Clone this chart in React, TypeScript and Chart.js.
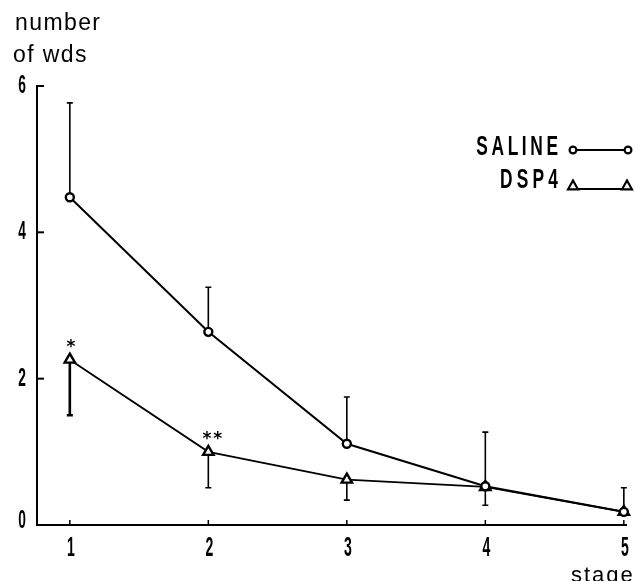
import React, { useEffect, useRef } from "react";
import { Chart, registerables } from "chart.js";

Chart.register(...registerables);

// ---- data ----
const stages = [1, 2, 3, 4, 5];
const salineMean = [4.48, 2.64, 1.11, 0.53, 0.18];
const salineUpper = [5.77, 3.25, 1.75, 1.27, 0.51];
const dsp4Mean = [2.26, 1.0, 0.62, 0.52, 0.18];
const dsp4Lower: (number | null)[] = [1.5, 0.51, 0.34, 0.27, null];
const yTickValues = [0, 2, 4, 6];
const xTickValues = [1, 2, 3, 4, 5];
const sigStages = [1, 2];
const sigMarks = ["*", "**"];
const legendLabels = ["SALINE", "DSP4"];

const BOLD = "'Liberation Sans', Arial, sans-serif";
const REGULAR = "'Liberation Sans', Arial, sans-serif";

function drawSpaced(ctx: CanvasRenderingContext2D, text: string, right: number, baseline: number, sx: number, gap: number) {
  const widths = text.split("").map((c) => ctx.measureText(c).width * sx);
  const total = widths.reduce((a, b) => a + b, 0) + gap * (text.length - 1);
  let x = right - total;
  text.split("").forEach((c, i) => {
    ctx.save();
    ctx.translate(x, baseline);
    ctx.scale(sx, 1);
    ctx.textAlign = "left";
    ctx.textBaseline = "alphabetic";
    ctx.fillText(c, 0, 0);
    ctx.restore();
    x += widths[i] + gap;
  });
}

function condensedText(ctx: CanvasRenderingContext2D, text: string, x: number, y: number, sx: number, align: CanvasTextAlign) {
  ctx.save();
  ctx.translate(x, y);
  ctx.scale(sx, 1);
  ctx.textAlign = align;
  ctx.textBaseline = "middle";
  ctx.fillText(text, 0, 0);
  ctx.restore();
}

function circle(ctx: CanvasRenderingContext2D, x: number, y: number, r: number) {
  ctx.beginPath();
  ctx.arc(x, y, r, 0, Math.PI * 2);
  ctx.fillStyle = "#fff";
  ctx.fill();
  ctx.stroke();
}

function triangle(ctx: CanvasRenderingContext2D, x: number, y: number, r: number) {
  ctx.beginPath();
  ctx.moveTo(x, y - r);
  ctx.lineTo(x + r * 0.9, y + r * 0.6);
  ctx.lineTo(x - r * 0.9, y + r * 0.6);
  ctx.closePath();
  ctx.fillStyle = "#fff";
  ctx.fill();
  ctx.stroke();
}

const overlayPlugin = {
  id: "overlay",
  beforeDatasetsDraw(chart: any) {
    const { ctx, scales } = chart;
    const xs = scales.x;
    const ys = scales.y;
    ctx.save();
    ctx.strokeStyle = "#000";
    ctx.lineCap = "butt";
    stages.forEach((s, i) => {
      const x = xs.getPixelForValue(s);
      const y0 = ys.getPixelForValue(salineMean[i]);
      const y1 = ys.getPixelForValue(salineUpper[i]);
      ctx.lineWidth = 1.6;
      ctx.beginPath();
      ctx.moveTo(x, y0);
      ctx.lineTo(x, y1);
      ctx.moveTo(x - 3, y1);
      ctx.lineTo(x + 3, y1);
      ctx.stroke();
    });
    stages.forEach((s, i) => {
      const lo = dsp4Lower[i];
      if (lo == null) return;
      const x = xs.getPixelForValue(s);
      const y0 = ys.getPixelForValue(dsp4Mean[i]);
      const y1 = ys.getPixelForValue(lo);
      ctx.lineWidth = i === 0 ? 2.6 : 1.6;
      ctx.beginPath();
      ctx.moveTo(x, y0);
      ctx.lineTo(x, y1);
      ctx.moveTo(x - 3, y1);
      ctx.lineTo(x + 3, y1);
      ctx.stroke();
    });
    ctx.restore();
  },
  afterDraw(chart: any) {
    const { ctx, scales, chartArea } = chart;
    const xs = scales.x;
    const ys = scales.y;
    ctx.save();
    ctx.strokeStyle = "#000";
    ctx.fillStyle = "#000";
    // inward ticks
    ctx.lineWidth = 2;
    yTickValues.forEach((v) => {
      if (v === 0) return;
      const y = ys.getPixelForValue(v);
      ctx.beginPath();
      ctx.moveTo(chartArea.left, y);
      ctx.lineTo(chartArea.left + 7, y);
      ctx.stroke();
    });
    ctx.lineWidth = 1.5;
    xTickValues.forEach((v) => {
      const x = xs.getPixelForValue(v);
      ctx.beginPath();
      ctx.moveTo(x, chartArea.bottom);
      ctx.lineTo(x, chartArea.bottom - 5);
      ctx.stroke();
    });
    // tick labels (condensed bold digits), positioned by the scales
    ctx.font = `bold 25px ${BOLD}`;
    ys.ticks.forEach((t: any) => {
      const y = ys.getPixelForValue(t.value) - (t.value === 0 ? 4 : 0);
      condensedText(ctx, String(t.value), chartArea.left - 11, y, 0.55, "right");
    });
    ctx.font = `bold 27px ${BOLD}`;
    xs.ticks.forEach((t: any) => {
      const x = xs.getPixelForValue(t.value) + 1;
      condensedText(ctx, String(t.value), x, chartArea.bottom + 24, 0.52, "center");
    });
    // significance marks
    ctx.font = `bold 17px 'DejaVu Sans', sans-serif`;
    ctx.textAlign = "center";
    ctx.textBaseline = "middle";
    sigStages.forEach((s, i) => {
      const idx = stages.indexOf(s);
      const x = xs.getPixelForValue(s) + (sigMarks[i].length > 1 ? 5 : 1);
      const y = ys.getPixelForValue(dsp4Mean[idx]) - 12;
      (ctx as any).letterSpacing = sigMarks[i].length > 1 ? "2px" : "0px";
      ctx.fillText(sigMarks[i], x, y);
    });
    (ctx as any).letterSpacing = "0px";
    // axis titles
    ctx.textAlign = "left";
    ctx.textBaseline = "alphabetic";
    ctx.font = `23px ${REGULAR}`;
    (ctx as any).letterSpacing = "1.4px";
    ctx.fillText("number", 15, 30);
    ctx.fillText("of wds", 13, 62);
    ctx.font = `22px ${REGULAR}`;
    (ctx as any).letterSpacing = "2px";
    ctx.fillText("stage", 571, 582);
    (ctx as any).letterSpacing = "0px";
    // legend
    ctx.font = `bold 28px ${BOLD}`;
    drawSpaced(ctx, legendLabels[0], 558, 155, 0.62, 3.6);
    drawSpaced(ctx, legendLabels[1], 558, 188, 0.62, 4.2);
    ctx.lineWidth = 1.8;
    ctx.beginPath();
    ctx.moveTo(573, 150);
    ctx.lineTo(628, 150);
    ctx.stroke();
    ctx.lineWidth = 2.2;
    circle(ctx, 573, 150, 3.4);
    circle(ctx, 628, 150, 3.4);
    ctx.lineWidth = 1.8;
    ctx.beginPath();
    ctx.moveTo(573, 189);
    ctx.lineTo(627, 189);
    ctx.stroke();
    ctx.lineWidth = 2.2;
    triangle(ctx, 573, 186, 5.5);
    triangle(ctx, 627, 186, 5.5);
    ctx.restore();
  },
};

export default function App() {
  const ref = useRef<HTMLCanvasElement | null>(null);
  useEffect(() => {
    if (!ref.current) return;
    const chart = new Chart(ref.current, {
      type: "line",
      data: {
        datasets: [
          {
            label: legendLabels[0],
            data: stages.map((s, i) => ({ x: s, y: salineMean[i] })),
            borderColor: "#000",
            borderWidth: 2,
            pointStyle: "circle",
            pointRadius: 4,
            pointBorderWidth: 2.4,
            pointBackgroundColor: "#fff",
            pointBorderColor: "#000",
            tension: 0,
            clip: false,
          },
          {
            label: legendLabels[1],
            data: stages.map((s, i) => ({ x: s, y: dsp4Mean[i] })),
            borderColor: "#000",
            borderWidth: 1.8,
            pointStyle: "triangle",
            pointRadius: 6,
            pointBorderWidth: 2.4,
            pointBackgroundColor: "#fff",
            pointBorderColor: "#000",
            tension: 0,
            clip: false,
          },
        ],
      },
      options: {
        animation: false,
        responsive: false,
        maintainAspectRatio: false,
        layout: { padding: { top: 86, right: 4, left: 0, bottom: 0 } },
        plugins: { legend: { display: false }, tooltip: { enabled: false } },
        scales: {
          x: {
            type: "linear",
            min: 0.763,
            max: 5.02,
            afterBuildTicks: (scale: any) => {
              scale.ticks = xTickValues.map((v) => ({ value: v }));
            },
            afterFit: (scale: any) => {
              scale.height = 56;
              scale.paddingLeft = 0;
              scale.paddingRight = 0;
            },
            grid: { display: false, drawTicks: false },
            border: { display: true, color: "#000", width: 2 },
            ticks: { display: false },
          },
          y: {
            type: "linear",
            min: 0,
            max: 6,
            afterBuildTicks: (scale: any) => {
              scale.ticks = yTickValues.map((v) => ({ value: v }));
            },
            afterFit: (scale: any) => {
              scale.width = 37;
              scale.paddingTop = 0;
              scale.paddingBottom = 0;
            },
            grid: { display: false, drawTicks: false },
            border: { display: true, color: "#000", width: 2 },
            ticks: { display: false },
          },
        },
      },
      plugins: [overlayPlugin],
    } as any);
    return () => chart.destroy();
  }, []);
  return (
    <div style={{ position: "fixed", left: 0, top: 0, width: 635, height: 581, background: "#fff" }}>
      <canvas ref={ref} width={635} height={581} style={{ display: "block", width: 635, height: 581 }} />
    </div>
  );
}
